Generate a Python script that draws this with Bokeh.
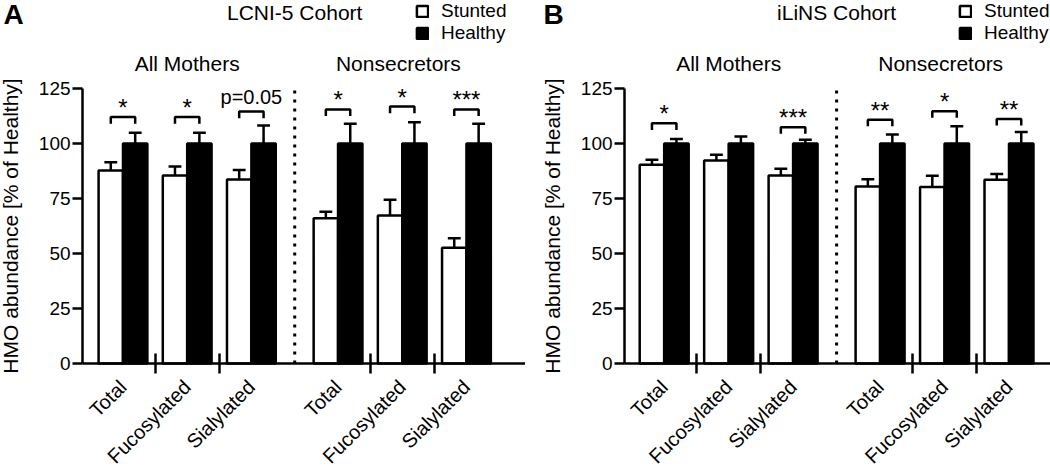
import math
from bokeh.plotting import figure
from bokeh.models import Range1d, FixedTicker, Label, Legend, LegendItem, ColumnDataSource
from bokeh.layouts import row
from bokeh.embed import file_html
from bokeh.resources import INLINE
from bokeh.core.properties import value

# ---------------- data ----------------
categories = ["Total", "Fucosylated", "Sialylated", "Total", "Fucosylated", "Sialylated"]
subsets = ["All Mothers", "Nonsecretors"]
series = ["Stunted", "Healthy"]
y_ticks = [0, 25, 50, 75, 100, 125]

# Panel A: LCNI-5 cohort
a_stunted = [87.7, 85.5, 83.6, 66.0, 67.3, 52.6]
a_stunted_sem = [3.8, 4.0, 4.4, 3.0, 7.1, 4.4]
a_healthy = [100, 100, 100, 100, 100, 100]
a_healthy_sem = [4.9, 4.9, 8.2, 9.0, 9.7, 9.0]
a_sig = ["*", "*", "p=0.05", "*", "*", "***"]
a_bracket = [112.0, 112.0, 114.5, 115.5, 116.8, 115.5]

# Panel B: iLiNS cohort
b_stunted = [90.3, 92.3, 85.5, 80.5, 80.2, 83.5]
b_stunted_sem = [2.3, 2.6, 3.0, 3.3, 5.1, 2.7]
b_healthy = [100, 100, 100, 100, 100, 100]
b_healthy_sem = [2.1, 3.2, 1.7, 4.1, 7.9, 5.2]
b_sig = ["*", "", "***", "**", "*", "**"]
b_bracket = [109.2, None, 107.4, 110.8, 114.7, 111.2]

FONT = "Liberation Sans"
LW = 2.5
HALF = 0.19          # each bar is 2*HALF wide
GAP = 0.35           # extra gap between the two subsets
Y_TOP = 165.0
Y_BOTTOM = -47.7
W, H = 525, 468


def make_panel(letter, cohort, stunted, s_sem, healthy, h_sem, sig, bracket,
               x_start, x_end, axis_x, legend_x, letter_x):
    pos = [i + (GAP if i >= 3 else 0.0) for i in range(len(categories))]
    seps = [(pos[i] + pos[i + 1]) / 2 for i in (0, 1, 3, 4)]
    x_div = (pos[2] + pos[3]) / 2

    p = figure(width=W, height=H, output_backend="svg", toolbar_location=None,
               x_range=Range1d(x_start, x_end), y_range=Range1d(Y_BOTTOM, Y_TOP),
               min_border=0, min_border_left=0, min_border_right=0,
               min_border_top=0, min_border_bottom=0)
    p.outline_line_color = None
    p.xgrid.grid_line_color = None
    p.ygrid.grid_line_color = None
    p.background_fill_color = "white"
    p.border_fill_color = "white"

    xs_s = [x - HALF for x in pos]
    xs_h = [x + HALF for x in pos]
    top_s = [t + e for t, e in zip(stunted, s_sem)]
    top_h = [t + e for t, e in zip(healthy, h_sem)]
    src_s = ColumnDataSource(dict(x=xs_s, top=stunted, err=top_s,
                                  c0=[x - 0.1 for x in xs_s], c1=[x + 0.1 for x in xs_s]))
    src_h = ColumnDataSource(dict(x=xs_h, top=healthy, err=top_h,
                                  c0=[x - 0.1 for x in xs_h], c1=[x + 0.1 for x in xs_h]))

    # error bars (upper only)
    for src in (src_s, src_h):
        p.segment(x0="x", y0="top", x1="x", y1="err", source=src, line_color="black", line_width=LW)
        p.segment(x0="c0", y0="err", x1="c1", y1="err", source=src, line_color="black", line_width=LW)

    r_s = p.vbar(x="x", top="top", bottom=0, width=2 * HALF, source=src_s,
                 fill_color="white", line_color="black", line_width=LW)
    r_h = p.vbar(x="x", top="top", bottom=0, width=2 * HALF, source=src_h,
                 fill_color="black", line_color="black", line_width=LW)

    # dotted divider
    p.segment(x0=[x_div], y0=[0], x1=[x_div], y1=[y_ticks[-1]], line_color="black",
              line_width=3, line_dash="3 6")

    # significance brackets and labels
    bxs, bys, tx, ty, tt, ts = [], [], [], [], [], []
    for x, s, b in zip(pos, sig, bracket):
        if not s:
            continue
        bxs.append([x - HALF, x - HALF, x + HALF, x + HALF])
        bys.append([b - 3, b, b, b - 3])
        tx.append(x)
        is_p = s.startswith("p")
        ty.append(b + (6.7 if is_p else 4.3))
        tt.append(s)
        ts.append("20px" if is_p else "24px")
    p.multi_line(xs=bxs, ys=bys, line_color="black", line_width=LW)
    sig_src = ColumnDataSource(dict(x=tx, y=ty, text=tt, size=ts))
    p.text(x="x", y="y", text="text", source=sig_src, text_align="center",
           text_baseline="alphabetic", text_font=value(FONT), text_font_size="size",
           text_color="black")

    # y axis drawn at a fixed position inside the frame
    ya = p.yaxis[0]
    ya.fixed_location = axis_x
    ya.ticker = FixedTicker(ticks=y_ticks)
    ya.bounds = (y_ticks[0], y_ticks[-1])
    ya.axis_line_width = LW
    ya.axis_line_color = "black"
    ya.major_tick_line_width = LW
    ya.major_tick_line_color = "black"
    ya.major_tick_in = 0
    ya.major_tick_out = 10
    ya.minor_tick_line_color = None
    ya.major_label_standoff = 2
    ya.major_label_text_font = FONT
    ya.major_label_text_font_size = "19px"
    ya.major_label_text_color = "black"
    ya.axis_label = "HMO abundance [% of Healthy]"
    ya.axis_label_text_font = FONT
    ya.axis_label_text_font_style = "normal"
    ya.axis_label_text_font_size = "21px"
    ya.axis_label_text_color = "black"
    ya.axis_label_standoff = 14

    # x axis at y = 0
    xa = p.xaxis[0]
    xa.fixed_location = 0
    xa.bounds = (axis_x, x_end)
    xa.ticker = FixedTicker(ticks=pos, minor_ticks=seps)
    xa.major_label_overrides = {x: c for x, c in zip(pos, categories)}
    xa.axis_line_width = LW
    xa.axis_line_color = "black"
    xa.major_tick_line_color = None
    xa.major_tick_in = 0
    xa.major_tick_out = 0
    xa.minor_tick_in = 10
    xa.minor_tick_out = 10
    xa.minor_tick_line_width = LW
    xa.minor_tick_line_color = "black"
    xa.major_label_orientation = math.pi / 4
    xa.major_label_standoff = 10
    xa.major_label_text_font = FONT
    xa.major_label_text_font_size = "20px"
    xa.major_label_text_color = "black"

    # texts
    p.add_layout(Label(x=letter_x, y=158.6, text=letter, text_align="left",
                       text_baseline="alphabetic", text_font=FONT, text_font_size="28px",
                       text_font_style="bold", text_color="black"))
    p.add_layout(Label(x=x_div, y=159.5, text=cohort, text_align="center",
                       text_baseline="alphabetic", text_font=FONT, text_font_size="21px",
                       text_color="black"))
    p.add_layout(Label(x=(pos[0] + pos[2]) / 2, y=136.3, text=subsets[0], text_align="center",
                       text_baseline="alphabetic", text_font=FONT, text_font_size="21px",
                       text_color="black"))
    p.add_layout(Label(x=(pos[3] + pos[5]) / 2 - 0.06, y=136.3, text=subsets[1], text_align="center",
                       text_baseline="alphabetic", text_font=FONT, text_font_size="21px",
                       text_color="black"))

    legend = Legend(items=[LegendItem(label=series[0], renderers=[r_s]),
                           LegendItem(label=series[1], renderers=[r_h])],
                    location=(legend_x, 424), glyph_width=14, glyph_height=14,
                    label_text_font=FONT, label_text_font_size="19px", label_text_color="black",
                    label_standoff=12, spacing=-4, padding=0, margin=0,
                    border_line_color=None, background_fill_alpha=0)
    p.add_layout(legend)
    return p


pa = make_panel("A", "LCNI-5 Cohort", a_stunted, a_stunted_sem, a_healthy, a_healthy_sem,
                a_sig, a_bracket, -1.908, 6.27, -0.63, 415, -1.86)
pb = make_panel("B", "iLiNS Cohort", b_stunted, b_stunted_sem, b_healthy, b_healthy_sem,
                b_sig, b_bracket, -2.152, 5.994, -0.615, 433, -1.873)

layout = row(pa, pb, spacing=0)
open("out.html", "w").write(file_html(layout, INLINE))
